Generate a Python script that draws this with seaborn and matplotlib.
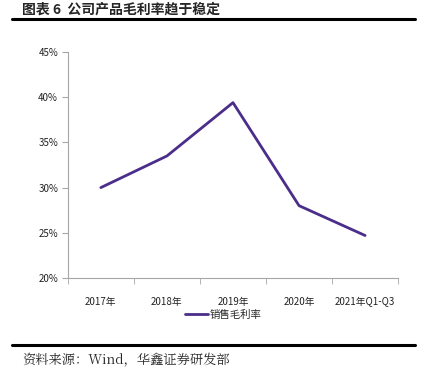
import pandas as pd
import seaborn as sns
import matplotlib.pyplot as plt
from matplotlib.ticker import PercentFormatter
from matplotlib.lines import Line2D

# data
years = ['2017年', '2018年', '2019年', '2020年', '2021年Q1-Q3']
gross_margin = [30.0, 33.5, 39.4, 28.0, 24.7]
series_name = '销售毛利率'

df = pd.DataFrame({'year': years, 'margin': gross_margin})

sns.set_style('white')
plt.rcParams['font.family'] = ['Noto Sans CJK SC', 'DejaVu Sans']

fig = plt.figure(figsize=(4.24, 3.78), dpi=100)
ax = fig.add_axes([0.160, 0.2646, 0.779, 0.5978])

line_color = '#4B2D8A'
sns.lineplot(data=df, x='year', y='margin', sort=False, color=line_color,
             linewidth=2, ax=ax, label=series_name)

ax.set_xlim(-0.5, len(years) - 0.5)
ax.set_ylim(20, 45)
ax.set_yticks([20, 25, 30, 35, 40, 45])
ax.yaxis.set_major_formatter(PercentFormatter(decimals=0))
ax.set_xlabel('')
ax.set_ylabel('')

for side in ['top', 'right']:
    ax.spines[side].set_visible(False)
for side in ['left', 'bottom']:
    ax.spines[side].set_color('#A6A6A6')
    ax.spines[side].set_linewidth(0.8)

# ticks between categories on x, outward ticks on y
ax.set_xticks(range(len(years)))
ax.set_xticklabels(years)
ax.set_xticks([i - 0.5 for i in range(len(years) + 1)], minor=True)
ax.tick_params(axis='x', which='major', length=0, pad=14, labelsize=7, labelcolor='#222222')
ax.tick_params(axis='x', which='minor', length=4, color='#A6A6A6', direction='out', bottom=True)
ax.tick_params(axis='y', length=4, color='#A6A6A6', direction='out', left=True,
               labelsize=7, labelcolor='#222222', pad=3)

ax.legend(handles=[Line2D([0], [0], color=line_color, lw=2)], labels=[series_name],
          loc='upper center', bbox_to_anchor=(0.47, -0.10), frameon=False,
          fontsize=7.5, handlelength=2.2, handletextpad=0.2)

# title and source with rules
fig.text(0.052, 0.974, '图表 6  公司产品毛利率趋于稳定', fontsize=10, fontweight='heavy',
         ha='left', va='center')
fig.add_artist(Line2D([0.028, 0.979], [0.950, 0.950], color='black', lw=2.2,
                      transform=fig.transFigure))
fig.add_artist(Line2D([0.028, 0.979], [0.086, 0.086], color='black', lw=2.2,
                      transform=fig.transFigure))
fig.text(0.052, 0.050, '资料来源：Wind，华鑫证券研发部', fontsize=9.5,
         family=['Noto Serif CJK SC', 'Noto Sans CJK SC', 'DejaVu Serif'], ha='left', va='center')

plt.savefig('out.png', dpi=100)
